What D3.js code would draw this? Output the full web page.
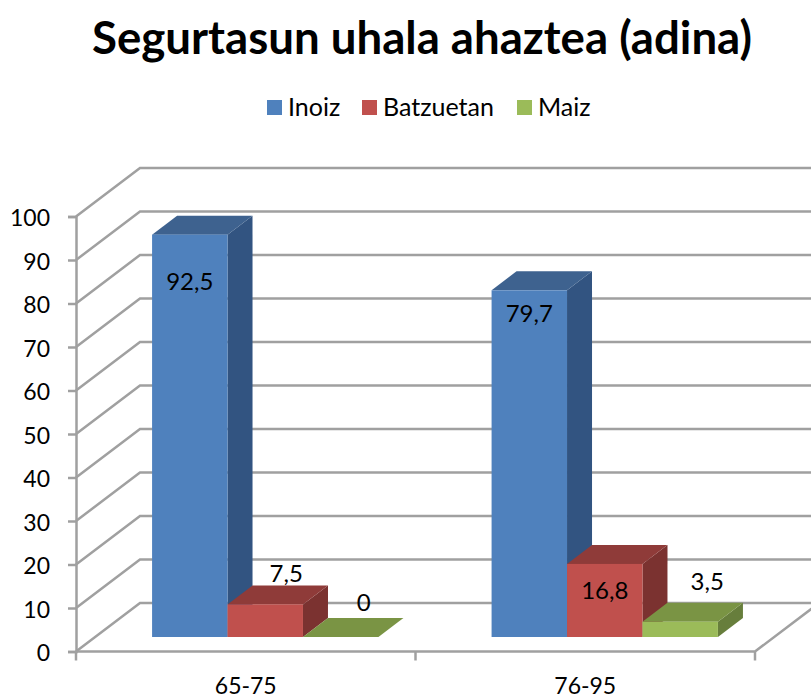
<!DOCTYPE html>
<html>
<head>
<meta charset="utf-8">
<script src="https://cdn.jsdelivr.net/npm/d3@7"></script>
<style>
    body { margin: 0; background: #fff; }
    text { font-family: Lato, "Open Sans", sans-serif; fill: #000; }
</style>
</head>
<body>
<div id="chart"></div>
<script>
// chart values
const categories = ["65-75", "76-95"];
const seriesNames = ["Inoiz", "Batzuetan", "Maiz"];
const inoiz = [92.5, 79.7];
const batzuetan = [7.5, 16.8];
const maiz = [0, 3.5];
const yTicks = [0, 10, 20, 30, 40, 50, 60, 70, 80, 90, 100];

const seriesValues = [inoiz, batzuetan, maiz];
const title = "Segurtasun uhala ahaztea (adina)";

// front, top and side colours of each series
const front = ["#4f81bd", "#c0504d", "#9bbb59"];
const topFace = ["#3e628f", "#8f3b39", "#7a9444"];
const sideFace = ["#325481", "#7b3230", "#677e3c"];

let width = 811, height = 699;

// the plot box, and how far the back wall is shifted from the front
let plot = {left: 76, right: 755, top: 216.5, bottom: 651.5};
let wall = {dx: 64, dy: -48.5};
let bar = {dx: 25, dy: -19, inX: 19.5, inY: -14.5};

let svg = d3.select("#chart").append("svg")
    .attr("width", width)
    .attr("height", height);

let y = d3.scaleLinear()
    .domain([0, 100])
    .range([plot.bottom, plot.top]);

let x0 = d3.scaleBand()
    .domain(categories)
    .range([plot.left, plot.right]);

let x1 = d3.scaleBand()
    .domain(seriesNames)
    .range([0, x0.bandwidth()])
    .paddingInner(0)
    .paddingOuter(0.75);

let polyLine = d3.line();

// Title
svg.append("text")
    .attr("x", 422)
    .attr("y", 54)
    .attr("text-anchor", "middle")
    .attr("font-size", 45.6)
    .attr("font-weight", 700)
    .text(title);

// Legend
let legendX = [267, 362, 517];
let legend = svg.selectAll(".legend").data(seriesNames).enter().append("g")
    .attr("class", "legend")
    .attr("transform", (d, i) => "translate(" + legendX[i] + ",100)");
legend.append("rect")
    .attr("width", 15)
    .attr("height", 15)
    .attr("fill", (d, i) => front[i]);
legend.append("text")
    .attr("x", 21)
    .attr("y", 16)
    .attr("font-size", 25)
    .text(d => d);

// Walls and gridlines
let grid = svg.append("g")
    .attr("fill", "none")
    .attr("stroke", "#a0a0a0")
    .attr("stroke-width", 2.5);

grid.selectAll(".grid").data(yTicks).enter().append("path")
    .attr("class", "grid")
    .attr("d", d => polyLine([
        [plot.left, y(d)],
        [plot.left + wall.dx, y(d) + wall.dy],
        [plot.right + wall.dx, y(d) + wall.dy]
    ]));

// front edge of the floor and its diagonal on the right
grid.append("path")
    .attr("d", polyLine([
        [plot.left, y(0)],
        [plot.right, y(0)],
        [plot.right + wall.dx, y(0) + wall.dy]
    ]));

// Axes
let yAxis = d3.axisLeft(y)
    .tickValues(yTicks)
    .tickSize(8)
    .tickPadding(18);

let yGroup = svg.append("g")
    .attr("transform", "translate(" + plot.left + ",0)")
    .call(yAxis);
yGroup.selectAll("line").attr("stroke", "#a0a0a0").attr("stroke-width", 2.5);
yGroup.select(".domain").attr("stroke", "#a0a0a0").attr("stroke-width", 2.5);
yGroup.selectAll("text").attr("font-size", 23).attr("font-family", "Lato").attr("fill", "#000").attr("dy", "0.4em");

let xAxis = d3.axisBottom(x0)
    .tickSize(0)
    .tickPadding(26);

let xGroup = svg.append("g")
    .attr("transform", "translate(0," + plot.bottom + ")")
    .call(xAxis);
xGroup.select(".domain").remove();
xGroup.selectAll("text").attr("font-size", 23).attr("font-family", "Lato").attr("fill", "#000");

// tick marks sit between the categories, not on them
xGroup.selectAll(".edge").data(categories.concat("end")).enter().append("line")
    .attr("class", "edge")
    .attr("x1", (d, i) => plot.left + i * x0.step())
    .attr("x2", (d, i) => plot.left + i * x0.step())
    .attr("y1", 0)
    .attr("y2", 9)
    .attr("stroke", "#a0a0a0")
    .attr("stroke-width", 2.5);

// Bars, left to right so the later ones cover the sides of the earlier ones
let barData = [];
categories.forEach(function (cat, c) {
    seriesNames.forEach(function (name, s) {
        barData.push({cat: cat, name: name, s: s, value: seriesValues[s][c]});
    });
});

let bars = svg.selectAll(".bar").data(barData).enter().append("g")
    .attr("class", "bar");

function barLeft(d) { return x0(d.cat) + x1(d.name) + bar.inX; }
function barRight(d) { return barLeft(d) + x1.bandwidth(); }
function barTop(d) { return y(d.value) + bar.inY; }
function barBase() { return y(0) + bar.inY; }

bars.append("path")
    .attr("fill", d => sideFace[d.s])
    .attr("d", d => polyLine([
        [barRight(d), barTop(d)],
        [barRight(d) + bar.dx, barTop(d) + bar.dy],
        [barRight(d) + bar.dx, barBase() + bar.dy],
        [barRight(d), barBase()]
    ]));

bars.append("path")
    .attr("fill", d => topFace[d.s])
    .attr("d", d => polyLine([
        [barLeft(d), barTop(d)],
        [barLeft(d) + bar.dx, barTop(d) + bar.dy],
        [barRight(d) + bar.dx, barTop(d) + bar.dy],
        [barRight(d), barTop(d)]
    ]));

bars.append("rect")
    .attr("fill", d => front[d.s])
    .attr("x", barLeft)
    .attr("y", barTop)
    .attr("width", x1.bandwidth())
    .attr("height", d => barBase() - barTop(d));

// Data labels, nudged off the bar by hand like in the original
let labelNudge = [
    [0, 46], [21, -32], [23, -36],
    [0, 22], [0, 25], [27, -41]
];

svg.selectAll(".value").data(barData).enter().append("text")
    .attr("class", "value")
    .attr("x", (d, i) => (barLeft(d) + barRight(d)) / 2 + labelNudge[i][0])
    .attr("y", (d, i) => barTop(d) + labelNudge[i][1])
    .attr("dy", "0.4em")
    .attr("text-anchor", "middle")
    .attr("font-size", 24)
    .text(d => String(d.value).replace(".", ","));
</script>
</body>
</html>
